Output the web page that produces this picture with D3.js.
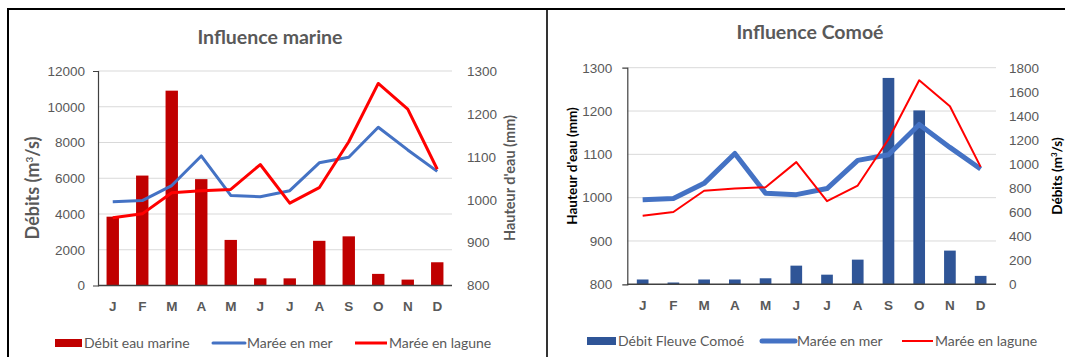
<!DOCTYPE html>
<html><head><meta charset="utf-8">
<script src="https://cdn.jsdelivr.net/npm/d3@7"></script>
<style>
body{margin:0;background:#fff;}
svg{display:block;font-family:Lato, "Open Sans", sans-serif;}
</style></head>
<body>
<svg id="c" width="1065" height="357"></svg>
<script>
const months = ["J","F","M","A","M","J","J","A","S","O","N","D"];
const debitMarine = [3850, 6150, 10900, 5950, 2550, 400, 400, 2500, 2750, 650, 330, 1300];
const debitComoe = [40, 15, 40, 40, 50, 155, 80, 205, 1715, 1445, 280, 70];
const mareeMer = [995, 998, 1033, 1102, 1010, 1007, 1021, 1086, 1099, 1169, 1116, 1066];
const mareeLagune = [958, 967, 1016, 1021, 1024, 1082, 992, 1028, 1135, 1271, 1211, 1071];
const debitMarineTicks = [0, 2000, 4000, 6000, 8000, 10000, 12000];
const hauteurTicks = [800, 900, 1000, 1100, 1200, 1300];
const debitComoeTicks = [0, 200, 400, 600, 800, 1000, 1200, 1400, 1600, 1800];

const svg = d3.select("#c");
const gray = "#595959";

svg.append("line").attr("x1",7).attr("x2",1065).attr("y1",9).attr("y2",9).attr("stroke","#000").attr("stroke-width",2);
svg.append("line").attr("x1",8).attr("x2",8).attr("y1",8).attr("y2",357).attr("stroke","#000").attr("stroke-width",2);
svg.append("line").attr("x1",547).attr("x2",547).attr("y1",8).attr("y2",357).attr("stroke","#000").attr("stroke-width",1.6);

function drawChart(o){
  const g = svg.append("g");
  const x = d3.scaleBand().domain(d3.range(12)).range([o.x0, o.x1]);
  const yBar = d3.scaleLinear().domain(o.barDomain).range([o.yb, o.yt]);
  const yLine = d3.scaleLinear().domain([800,1300]).range([o.yb, o.yt]);
  const yLeft = o.barLeft ? yBar : yLine;
  const yRight = o.barLeft ? yLine : yBar;
  const leftTicks = o.barLeft ? o.barTicks : hauteurTicks;
  const rightTicks = o.barLeft ? hauteurTicks : o.barTicks;

  g.selectAll(".grid").data(leftTicks.slice(1)).join("line")
    .attr("x1",o.x0).attr("x2",o.x1)
    .attr("y1",d=>yLeft(d)).attr("y2",d=>yLeft(d))
    .attr("stroke","#d9d9d9").attr("stroke-width",1);

  const bw = x.bandwidth()*o.barFrac;
  g.selectAll(".bar").data(o.bars).join("rect")
    .attr("x",(d,i)=>x(i)+x.bandwidth()/2-bw/2)
    .attr("width",bw)
    .attr("y",d=>yBar(d)).attr("height",d=>yBar(o.barDomain[0])-yBar(d))
    .attr("fill",o.barColor);

  const line = d3.line().x((d,i)=>x(i)+x.bandwidth()/2).y(d=>yLine(d));
  g.append("path").datum(mareeMer).attr("d",line).attr("fill","none")
    .attr("stroke","#4472c4").attr("stroke-width",o.merW).attr("stroke-linejoin","round");
  g.append("path").datum(mareeLagune).attr("d",line).attr("fill","none")
    .attr("stroke","#ff0000").attr("stroke-width",o.lagW).attr("stroke-linejoin","round");

  const la = d3.axisLeft(yLeft).tickValues(leftTicks).tickSizeInner(0).tickSizeOuter(5).tickPadding(o.leftPad).tickFormat(d3.format("d"));
  const lg = g.append("g").attr("transform",`translate(${o.x0},0)`).call(la);
  lg.select(".domain").attr("stroke","#404040").attr("stroke-width",1.2);
  lg.selectAll("text").attr("fill",gray).attr("font-size",13.5);

  const ra = d3.axisRight(yRight).tickValues(rightTicks).tickSize(0).tickPadding(o.rightPad).tickFormat(d3.format("d"));
  const rg = g.append("g").attr("transform",`translate(${o.x1},0)`).call(ra);
  rg.select(".domain").remove();
  rg.selectAll("text").attr("fill",gray).attr("font-size",13.5);

  g.append("line").attr("x1",o.x0).attr("x2",o.x1).attr("y1",o.yb).attr("y2",o.yb).attr("stroke","#404040").attr("stroke-width",1.5);
  const xa = d3.axisBottom(x).tickSize(0).tickPadding(16).tickFormat(i=>months[i]);
  const xg = g.append("g").attr("transform",`translate(0,${o.yb})`).call(xa);
  xg.select(".domain").remove();
  xg.selectAll("text").attr("fill",gray).attr("font-size",13.5).attr("font-weight","bold");

  g.append("text").attr("x",o.titleX).attr("y",o.titleY).attr("text-anchor","middle")
    .attr("fill",gray).attr("font-size",19.5).attr("font-weight","bold").text(o.title);

  g.append("text").attr("transform",`translate(${o.lTitleX},${o.lTitleY}) rotate(-90)`)
    .attr("text-anchor","middle").attr("dy","0.35em").attr("fill",o.lTitleColor)
    .attr("font-size",o.lTitleSize).attr("font-weight","bold").html(o.lTitle);
  g.append("text").attr("transform",`translate(${o.rTitleX},${o.rTitleY}) rotate(-90)`)
    .attr("text-anchor","middle").attr("dy","0.35em").attr("fill",o.rTitleColor)
    .attr("font-size",o.rTitleSize).attr("font-weight","bold").html(o.rTitle);

  const ly = o.legY;
  const leg = g.append("g");
  leg.append("rect").attr("x",o.leg[0]).attr("y",ly-4).attr("width",o.leg[1]-o.leg[0]).attr("height",8).attr("fill",o.barColor);
  leg.append("text").attr("x",o.leg[1]+2).attr("y",ly).attr("dy","0.35em").attr("fill",gray).attr("font-size",14).text(o.barName);
  leg.append("line").attr("x1",o.leg[2]).attr("x2",o.leg[3]).attr("y1",ly).attr("y2",ly).attr("stroke","#4472c4").attr("stroke-width",o.merW).attr("stroke-linecap","round");
  leg.append("text").attr("x",o.leg[3]+2).attr("y",ly).attr("dy","0.35em").attr("fill",gray).attr("font-size",14).text("Marée en mer");
  leg.append("line").attr("x1",o.leg[4]).attr("x2",o.leg[5]).attr("y1",ly).attr("y2",ly).attr("stroke","#ff0000").attr("stroke-width",o.lagW);
  leg.append("text").attr("x",o.leg[5]+2).attr("y",ly).attr("dy","0.35em").attr("fill",gray).attr("font-size",14).text("Marée en lagune");
}

drawChart({
  x0:98, x1:452, yt:71, yb:285.5,
  barLeft:true, bars:debitMarine, barDomain:[0,12000], barTicks:debitMarineTicks,
  barColor:"#c00000", barFrac:0.42, merW:3, lagW:3,
  leftPad:13, rightPad:15,
  title:"Influence marine", titleX:270, titleY:44,
  lTitle:'Débits (m<tspan baseline-shift="super" font-size="10">3</tspan>/s)', lTitleX:33, lTitleY:188, lTitleColor:gray, lTitleSize:18,
  rTitle:"Hauteur d'eau  (mm)", rTitleX:510, rTitleY:178, rTitleColor:gray, rTitleSize:14.5,
  legY:343, leg:[55,82,213,245,355,387], barName:"Débit eau marine"
});

drawChart({
  x0:627.3, x1:996, yt:67.7, yb:284.3,
  barLeft:false, bars:debitComoe, barDomain:[0,1800], barTicks:debitComoeTicks,
  barColor:"#2f5597", barFrac:0.38, merW:5, lagW:2,
  leftPad:15, rightPad:13,
  title:"Influence Comoé", titleX:810, titleY:39,
  lTitle:"Hauteur d'eau  (mm)", lTitleX:572, lTitleY:166, lTitleColor:"#000", lTitleSize:13.5,
  rTitle:'Débits (m<tspan baseline-shift="super" font-size="8">3</tspan>/s)', rTitleX:1057, rTitleY:176, rTitleColor:"#000", rTitleSize:13.5,
  legY:341, leg:[587,616,762,795,902,933], barName:"Débit Fleuve Comoé"
});
</script>
</body></html>
